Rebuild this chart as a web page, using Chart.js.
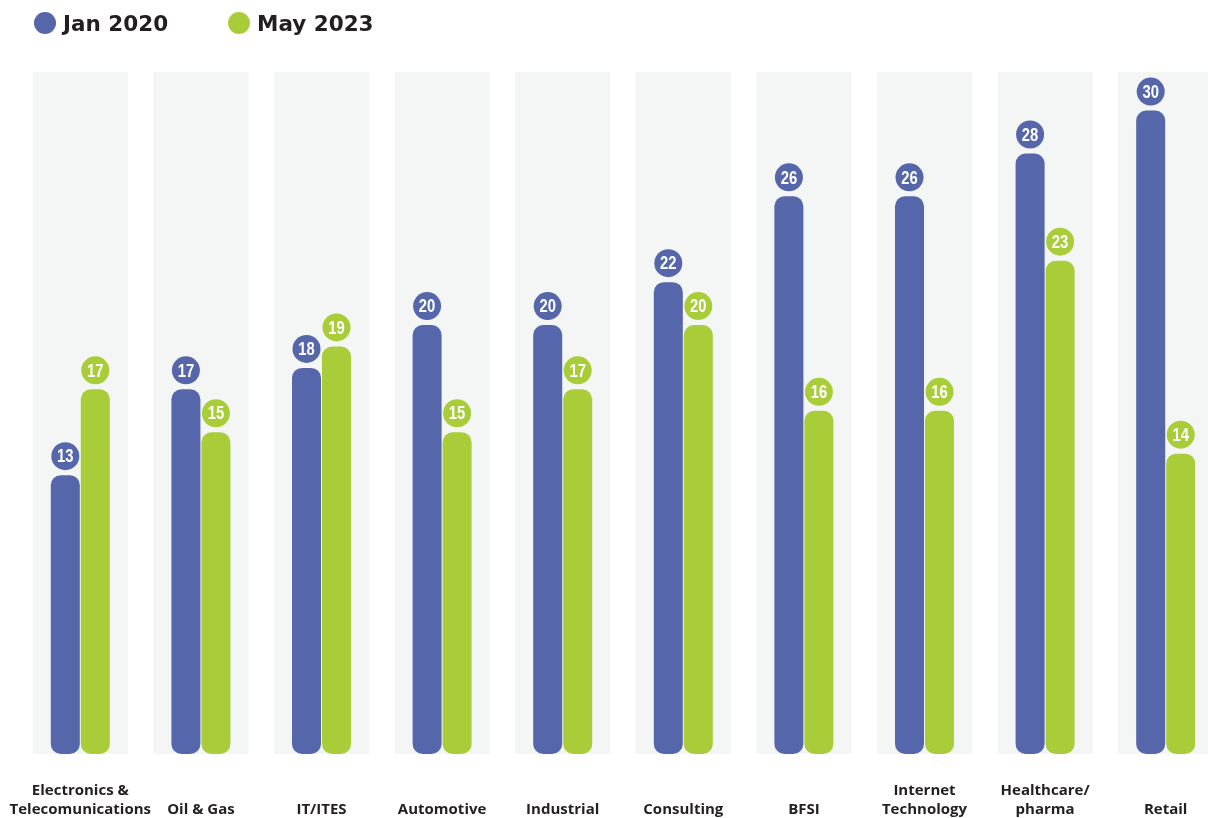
<!DOCTYPE html>
<html>
<head>
<meta charset="utf-8">
<title>Jan 2020 vs May 2023</title>
<script src="https://cdn.jsdelivr.net/npm/chart.js@4.4.1/dist/chart.umd.min.js"></script>
<style>
    html, body { margin: 0; padding: 0; background: #fff; overflow: hidden; }
    #wrap { position: relative; width: 1230px; height: 846px; }
    #sectors { display: block; }
    .legend-item {
        position: absolute; top: 8px; height: 30px;
        display: flex; align-items: center;
        font-family: "DejaVu Sans", sans-serif; font-weight: 700; font-size: 21.5px; color: #231f20;
    }
    .dot { width: 22px; height: 22px; border-radius: 50%; margin-right: 7px; }
</style>
</head>
<body>
<div id="wrap">
    <canvas id="sectors" width="1230" height="846"></canvas>
    <div class="legend-item" id="leg0" style="left:34px"><span class="dot"></span><span></span></div>
    <div class="legend-item" id="leg1" style="left:228px"><span class="dot"></span><span></span></div>
</div>
<script>
const categories = [
    ['Electronics &', 'Telecomunications'],
    ['', 'Oil & Gas'],
    ['', 'IT/ITES'],
    ['', 'Automotive'],
    ['', 'Industrial'],
    ['', 'Consulting'],
    ['', 'BFSI'],
    ['Internet', 'Technology'],
    ['Healthcare/', 'pharma'],
    ['', 'Retail']
]
const seriesNames = ['Jan 2020', 'May 2023']
const jan2020 = [13, 17, 18, 20, 20, 22, 26, 26, 28, 30]
const may2023 = [17, 15, 19, 15, 17, 20, 16, 16, 23, 14]

const BLUE = '#5566ab'
const GREEN = '#a9cd38'

// legend in html
let legColors = [BLUE, GREEN]
for (let i = 0; i < 2; i++) {
    let el = document.getElementById('leg' + i)
    el.children[0].style.background = legColors[i]
    el.children[1].textContent = seriesNames[i]
}

// light grey column behind every category
const columnBg = {
    id: 'columnBg',
    beforeDatasetsDraw(chart) {
        const { ctx, chartArea, scales: { x } } = chart
        const w = x.width / categories.length * 0.788
        ctx.save()
        ctx.fillStyle = '#f4f5f5'
        for (let i = 0; i < categories.length; i++) {
            let cx = x.getPixelForValue(i)
            ctx.fillRect(cx - w / 2, chartArea.top, w, chartArea.bottom - chartArea.top)
        }
        ctx.restore()
    }
}

// value bubbles above bars
const valueBubbles = {
    id: 'valueBubbles',
    afterDatasetsDraw(chart) {
        const ctx = chart.ctx
        ctx.save()
        chart.data.datasets.forEach((ds, di) => {
            chart.getDatasetMeta(di).data.forEach((bar, i) => {
                let cy = bar.y - 19
                ctx.beginPath()
                ctx.arc(bar.x, cy, 14, 0, Math.PI * 2)
                ctx.fillStyle = ds.backgroundColor
                ctx.fill()
                ctx.save()
                ctx.translate(bar.x, cy + 1)
                ctx.scale(0.78, 1)
                ctx.fillStyle = '#fff'
                ctx.font = 'bold 19px "Liberation Sans Narrow", "Liberation Sans", sans-serif'
                ctx.textAlign = 'center'
                ctx.textBaseline = 'middle'
                ctx.fillText(ds.data[i], 0, 0)
                ctx.restore()
            })
        })
        ctx.restore()
    }
}

let sectorsContext = document.getElementById('sectors')
var sectors = new Chart(sectorsContext, {
    type: 'bar',
    data: {
        labels: categories,
        datasets: [{
            label: seriesNames[0],
            data: jan2020,
            backgroundColor: BLUE,
            borderRadius: 10,
            borderSkipped: false,
            categoryPercentage: 0.4975,
            barPercentage: 0.967
        }, {
            label: seriesNames[1],
            data: may2023,
            backgroundColor: GREEN,
            borderRadius: 10,
            borderSkipped: false,
            categoryPercentage: 0.4975,
            barPercentage: 0.967
        }]
    },
    options: {
        responsive: false,
        animation: false,
        layout: { padding: { left: 20, right: 4, top: 72, bottom: 0 } },
        plugins: {
            legend: { display: false },
            tooltip: { enabled: false }
        },
        scales: {
            x: {
                grid: { display: false, drawTicks: false },
                border: { display: false },
                ticks: {
                    autoSkip: false,
                    maxRotation: 0,
                    padding: 27,
                    color: '#231f20',
                    font: { family: '"Open Sans", sans-serif', weight: 'bold', size: 15, lineHeight: 1.27 }
                },
                afterFit(scale) {
                    scale.paddingLeft = 0
                    scale.paddingRight = 0
                }
            },
            y: {
                display: false,
                min: 0,
                max: 31.8
            }
        }
    },
    plugins: [columnBg, valueBubbles]
})
</script>
</body>
</html>
